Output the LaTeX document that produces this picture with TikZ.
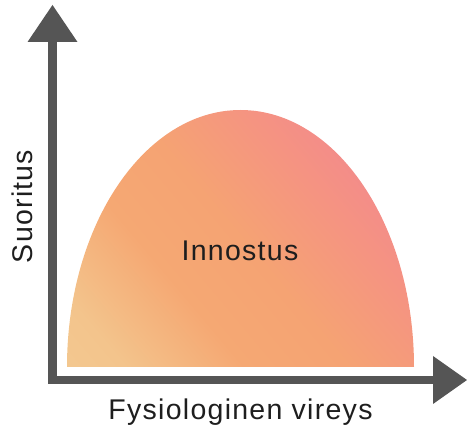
\documentclass[tikz,border=0pt]{standalone}
\usepackage{fontspec}
\setmainfont{Liberation Sans}[LetterSpace=4.5]
\definecolor{axisgray}{HTML}{555555}
\definecolor{txt}{HTML}{1E1E1E}
\pgfdeclareverticalshading{humpshade}{100bp}{%
  color(0bp)=(rgb,255:red,244;green,206;blue,150);
  color(22bp)=(rgb,255:red,243;green,196;blue,140);
  color(37bp)=(rgb,255:red,245;green,168;blue,115);
  color(50bp)=(rgb,255:red,245;green,163;blue,115);
  color(65bp)=(rgb,255:red,245;green,147;blue,130);
  color(76bp)=(rgb,255:red,242;green,136;blue,142);
  color(100bp)=(rgb,255:red,242;green,136;blue,142)}
\begin{document}
\begin{tikzpicture}[x=1pt,y=1pt,
  axisline/.style={draw=axisgray,line width=8.5pt,miter limit=10},
  axishead/.style={fill=axisgray},
  lbl/.style={text=txt,font=\fontsize{28.5}{31}\selectfont,inner sep=0pt}]
\useasboundingbox (0,0) rectangle (467,429);
% hump
\shade[shading=humpshade,shading angle=-50]
  (67,62) arc[start angle=180,end angle=0,x radius=173.5,y radius=257] -- cycle;
% axes
\coordinate (ytop) at (52.5,387);
\coordinate (o) at (52.5,49);
\coordinate (xend) at (433,49);
\draw[axisline] (ytop) -- (o) -- (xend);
\fill[axishead] (27.5,387) -- (52.5,424) -- (77.5,387) -- cycle;
\fill[axishead] (433,73) -- (467,49) -- (433,25) -- cycle;
% labels
\node[lbl,anchor=base] (inn) at (240,168) {Innostus};
\node[lbl,anchor=base] (xl) at (240.5,9) {Fysiologinen vireys};
\node[lbl,anchor=base,rotate=90] (yl) at (33,222.5) {Suoritus};
\end{tikzpicture}
\end{document}
